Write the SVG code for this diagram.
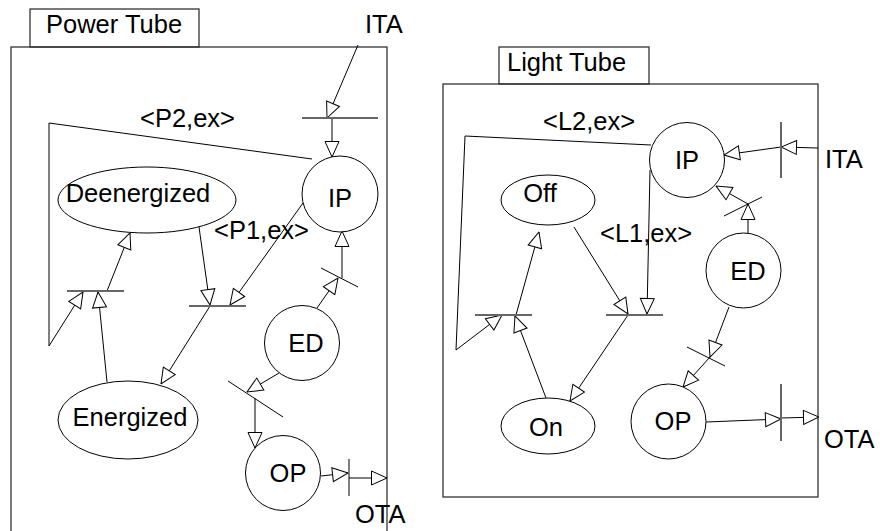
<svg xmlns="http://www.w3.org/2000/svg" width="883" height="531" viewBox="0 0 883 531">
<defs>
<marker id="ah" viewBox="0 0 17 16" refX="16.5" refY="8" markerWidth="17" markerHeight="16" markerUnits="userSpaceOnUse" orient="auto">
<path d="M1,1 L16.5,8 L1,15 Z" fill="#fff" stroke="#000" stroke-width="1"/>
</marker>
<style>
text{font-family:"Liberation Sans",Arial,sans-serif;font-size:25.5px;fill:#000}
.box{fill:none;stroke:#333;stroke-width:1.3}
.node{fill:#fff;stroke:#000;stroke-width:1}
.ln{fill:none;stroke:#000;stroke-width:1}
.ar{fill:none;stroke:#000;stroke-width:1;marker-end:url(#ah)}
.bar{fill:none;stroke:#666;stroke-width:2}
</style>
</defs>
<rect width="883" height="531" fill="#fff"/>

<g id="power-tube">
<rect class="box" x="11" y="47" width="376" height="500"/>
<rect class="box" x="30" y="9" width="169" height="38" fill="#fff"/>
<text x="46" y="33">Power Tube</text>
</g>
<g id="light-tube">
<rect class="box" x="443" y="84" width="375" height="413"/>
<rect class="box" x="499" y="47" width="150" height="37" fill="#fff"/>
<text x="507" y="71">Light Tube</text>
</g>

<g id="connectors">
<!-- Power tube -->
<line class="ar" x1="358" y1="45" x2="327" y2="118"/>
<line class="ar" x1="332" y1="118" x2="332" y2="157"/>
<polyline class="ln" points="312,159 49,123 49,346"/>
<line class="ar" x1="49" y1="346" x2="83" y2="292"/>
<line class="ar" x1="107" y1="382" x2="98" y2="292"/>
<line class="ar" x1="107" y1="291" x2="130" y2="233"/>
<line class="ar" x1="199" y1="227" x2="210" y2="305"/>
<line class="ar" x1="303" y1="203" x2="230" y2="305"/>
<line class="ar" x1="210" y1="306" x2="161" y2="384"/>
<line class="ar" x1="317" y1="308" x2="338" y2="278"/>
<line class="ar" x1="342" y1="278" x2="342" y2="231"/>
<line class="ar" x1="279" y1="373" x2="247" y2="392"/>
<line class="ar" x1="255" y1="398" x2="255" y2="448"/>
<line class="ar" x1="321" y1="476" x2="348" y2="473"/>
<line class="ar" x1="349" y1="478" x2="387" y2="478"/>
<!-- Light tube -->
<polyline class="ln" points="651,145 465,136 456,350"/>
<line class="ar" x1="456" y1="350" x2="502" y2="315"/>
<line class="ar" x1="516" y1="315" x2="539" y2="232"/>
<line class="ar" x1="546" y1="398" x2="515" y2="316"/>
<line class="ar" x1="574" y1="227" x2="628" y2="314"/>
<line class="ar" x1="650" y1="170" x2="647" y2="314"/>
<line class="ar" x1="628" y1="315" x2="570" y2="401"/>
<line class="ar" x1="818" y1="148" x2="781" y2="147"/>
<line class="ar" x1="781" y1="147" x2="724" y2="155"/>
<line class="ar" x1="748" y1="233" x2="748" y2="204"/>
<line class="ar" x1="748" y1="204" x2="716" y2="186"/>
<line class="ar" x1="729" y1="307" x2="710" y2="357"/>
<line class="ar" x1="710" y1="357" x2="683" y2="387"/>
<line class="ar" x1="706" y1="422" x2="781" y2="419"/>
<line class="ar" x1="781" y1="418" x2="819" y2="417"/>
</g>

<g id="transitions">
<line class="bar" x1="302" y1="118" x2="378" y2="118"/>
<line class="bar" x1="67" y1="291" x2="124" y2="291"/>
<line class="bar" x1="189" y1="306" x2="246" y2="306"/>
<line class="ln" x1="321" y1="268" x2="358" y2="287"/>
<line class="ln" x1="228" y1="381" x2="283" y2="417"/>
<line class="ln" x1="349" y1="459" x2="349" y2="496"/>
<line class="bar" x1="781" y1="122" x2="781" y2="178"/>
<line class="ln" x1="724" y1="216" x2="762" y2="197"/>
<line class="bar" x1="475" y1="315" x2="532" y2="315"/>
<line class="bar" x1="606" y1="315" x2="663" y2="315"/>
<line class="ln" x1="687" y1="347" x2="725" y2="366"/>
<line class="bar" x1="781" y1="384" x2="781" y2="441"/>
</g>

<g id="p-ip"><circle class="node" cx="340" cy="194" r="38"/><text x="340" y="207" text-anchor="middle">IP</text></g>
<g id="p-deenergized"><ellipse class="node" cx="147" cy="200" rx="89" ry="33"/><text x="138" y="202" text-anchor="middle">Deenergized</text></g>
<g id="p-energized"><ellipse class="node" cx="128" cy="420" rx="70" ry="39"/><text x="130" y="426" text-anchor="middle">Energized</text></g>
<g id="p-ed"><circle class="node" cx="302" cy="343" r="37.5"/><text x="306" y="352" text-anchor="middle">ED</text></g>
<g id="p-op"><circle class="node" cx="283" cy="473" r="37.5"/><text x="288" y="482" text-anchor="middle">OP</text></g>

<g id="l-ip"><circle class="node" cx="687" cy="160" r="37.5"/><text x="687" y="169" text-anchor="middle">IP</text></g>
<g id="l-off"><ellipse class="node" cx="548" cy="200" rx="47" ry="25"/><text x="540" y="202" text-anchor="middle">Off</text></g>
<g id="l-on"><ellipse class="node" cx="548" cy="426" rx="47" ry="28"/><text x="546" y="436" text-anchor="middle">On</text></g>
<g id="l-ed"><circle class="node" cx="743.5" cy="270.5" r="37.5"/><text x="748" y="280" text-anchor="middle">ED</text></g>
<g id="l-op"><circle class="node" cx="668.5" cy="421.5" r="37.5"/><text x="673" y="430" text-anchor="middle">OP</text></g>

<g id="labels">
<text x="365" y="33">ITA</text>
<text x="140" y="127">&lt;P2,ex&gt;</text>
<text x="214" y="239">&lt;P1,ex&gt;</text>
<text x="355" y="523">OTA</text>
<text x="825" y="168">ITA</text>
<text x="543" y="130">&lt;L2,ex&gt;</text>
<text x="600" y="242">&lt;L1,ex&gt;</text>
<text x="824" y="448">OTA</text>
</g>
</svg>
